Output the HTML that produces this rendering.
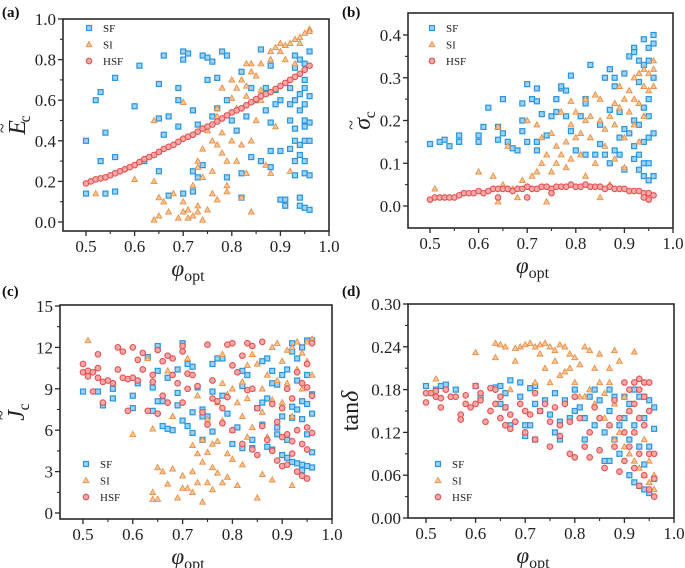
<!DOCTYPE html>
<html><head><meta charset="utf-8"><style>
html,body{margin:0;padding:0;background:#fff;}
svg{display:block;}
svg text{font-family:"Liberation Serif","DejaVu Serif",serif;}
</style></head><body>
<svg id="fig" width="685" height="568" viewBox="0 0 685 568" xmlns="http://www.w3.org/2000/svg"></svg>
<script>
const NS="http://www.w3.org/2000/svg";
const xTicks=[0.5,0.6,0.7,0.8,0.9,1.0];
const xTickLabels=["0.5","0.6","0.7","0.8","0.9","1.0"];
const aYTicks=[0,0.2,0.4,0.6,0.8,1.0];
const aYTickLabels=["0.0","0.2","0.4","0.6","0.8","1.0"];
const bYTicks=[0,0.1,0.2,0.3,0.4];
const bYTickLabels=["0.0","0.1","0.2","0.3","0.4"];
const cYTicks=[0,3,6,9,12,15];
const cYTickLabels=["0","3","6","9","12","15"];
const dYTicks=[0,0.06,0.12,0.18,0.24,0.30];
const dYTickLabels=["0.00","0.06","0.12","0.18","0.24","0.30"];
const seriesNames=["SF","SI","HSF"];

const aSF=[[0.50,0.40],[0.50,0.14],[0.52,0.60],[0.53,0.64],[0.53,0.30],[0.54,0.44],[0.54,0.14],[0.56,0.71],[0.56,0.32],[0.56,0.15],[0.60,0.57],[0.61,0.77],[0.62,0.30],[0.65,0.68],[0.65,0.51],[0.65,0.25],[0.66,0.82],[0.66,0.43],[0.67,0.52],[0.67,0.13],[0.69,0.66],[0.69,0.60],[0.69,0.47],[0.70,0.84],[0.70,0.80],[0.70,0.14],[0.71,0.83],[0.72,0.55],[0.72,0.25],[0.72,0.15],[0.73,0.48],[0.73,0.22],[0.74,0.82],[0.74,0.28],[0.75,0.70],[0.75,0.81],[0.76,0.79],[0.76,0.52],[0.77,0.56],[0.77,0.71],[0.78,0.84],[0.79,0.82],[0.79,0.60],[0.79,0.22],[0.80,0.50],[0.81,0.45],[0.82,0.74],[0.82,0.24],[0.82,0.12],[0.83,0.52],[0.84,0.66],[0.84,0.32],[0.85,0.60],[0.86,0.85],[0.86,0.30],[0.87,0.55],[0.87,0.66],[0.88,0.77],[0.88,0.49],[0.88,0.35],[0.88,0.27],[0.89,0.58],[0.89,0.65],[0.90,0.60],[0.90,0.35],[0.90,0.11],[0.91,0.11],[0.91,0.08],[0.92,0.66],[0.92,0.58],[0.92,0.50],[0.92,0.36],[0.93,0.82],[0.93,0.76],[0.93,0.60],[0.93,0.46],[0.93,0.40],[0.93,0.30],[0.93,0.23],[0.94,0.80],[0.94,0.63],[0.94,0.55],[0.94,0.38],[0.94,0.33],[0.94,0.12],[0.94,0.08],[0.95,0.78],[0.95,0.70],[0.95,0.66],[0.95,0.58],[0.95,0.50],[0.95,0.47],[0.95,0.40],[0.95,0.30],[0.95,0.24],[0.95,0.07],[0.96,0.84],[0.96,0.62],[0.96,0.49],[0.96,0.40],[0.96,0.23],[0.96,0.06]];
const aSI=[[0.52,0.14],[0.60,0.21],[0.64,0.50],[0.64,0.20],[0.64,0.01],[0.65,0.12],[0.65,0.03],[0.66,0.10],[0.67,0.05],[0.68,0.14],[0.69,0.02],[0.70,0.59],[0.70,0.10],[0.70,0.05],[0.71,0.06],[0.71,0.02],[0.72,0.18],[0.72,0.03],[0.73,0.27],[0.73,0.30],[0.73,0.08],[0.73,0.05],[0.74,0.01],[0.74,0.22],[0.74,0.36],[0.75,0.45],[0.75,0.06],[0.76,0.25],[0.76,0.40],[0.76,0.14],[0.77,0.52],[0.77,0.38],[0.77,0.11],[0.78,0.66],[0.78,0.34],[0.78,0.44],[0.79,0.30],[0.79,0.18],[0.79,0.15],[0.80,0.70],[0.80,0.40],[0.80,0.61],[0.81,0.66],[0.81,0.30],[0.82,0.12],[0.82,0.70],[0.82,0.38],[0.83,0.62],[0.83,0.78],[0.83,0.24],[0.84,0.78],[0.84,0.74],[0.84,0.40],[0.84,0.05],[0.85,0.72],[0.85,0.50],[0.86,0.78],[0.86,0.60],[0.87,0.28],[0.88,0.84],[0.88,0.80],[0.88,0.24],[0.89,0.86],[0.89,0.47],[0.90,0.84],[0.90,0.88],[0.91,0.87],[0.91,0.80],[0.92,0.88],[0.92,0.25],[0.93,0.90],[0.93,0.78],[0.94,0.91],[0.94,0.88],[0.95,0.93],[0.96,0.95],[0.96,0.94],[0.77,0.56],[0.81,0.56],[0.83,0.67],[0.86,0.65]];
const aHSF=[[0.50,0.19],[0.51,0.20],[0.52,0.21],[0.53,0.215],[0.54,0.22],[0.55,0.23],[0.56,0.24],[0.57,0.25],[0.58,0.26],[0.59,0.27],[0.60,0.28],[0.61,0.295],[0.62,0.31],[0.63,0.32],[0.64,0.33],[0.65,0.345],[0.66,0.36],[0.67,0.37],[0.68,0.38],[0.69,0.395],[0.70,0.41],[0.71,0.42],[0.72,0.43],[0.73,0.445],[0.74,0.46],[0.75,0.47],[0.76,0.48],[0.77,0.495],[0.78,0.51],[0.79,0.525],[0.80,0.54],[0.81,0.55],[0.82,0.56],[0.83,0.575],[0.84,0.59],[0.85,0.605],[0.86,0.62],[0.87,0.63],[0.88,0.64],[0.89,0.655],[0.90,0.67],[0.91,0.685],[0.92,0.70],[0.93,0.715],[0.94,0.73],[0.95,0.75],[0.96,0.77]];

const bSF=[[0.50,0.145],[0.52,0.15],[0.53,0.155],[0.54,0.14],[0.56,0.165],[0.56,0.15],[0.60,0.165],[0.60,0.15],[0.61,0.185],[0.62,0.23],[0.64,0.185],[0.64,0.155],[0.65,0.25],[0.65,0.17],[0.66,0.15],[0.67,0.135],[0.68,0.13],[0.69,0.20],[0.69,0.24],[0.69,0.175],[0.70,0.285],[0.70,0.15],[0.71,0.25],[0.72,0.275],[0.72,0.245],[0.72,0.15],[0.72,0.13],[0.73,0.215],[0.74,0.165],[0.75,0.21],[0.76,0.25],[0.76,0.22],[0.77,0.275],[0.77,0.28],[0.78,0.27],[0.78,0.21],[0.79,0.305],[0.79,0.175],[0.80,0.13],[0.81,0.21],[0.82,0.25],[0.82,0.24],[0.82,0.12],[0.83,0.33],[0.84,0.12],[0.85,0.19],[0.85,0.145],[0.86,0.30],[0.86,0.12],[0.87,0.32],[0.87,0.225],[0.87,0.10],[0.88,0.30],[0.88,0.28],[0.88,0.13],[0.89,0.22],[0.89,0.16],[0.89,0.12],[0.90,0.31],[0.90,0.18],[0.90,0.085],[0.91,0.35],[0.91,0.17],[0.92,0.37],[0.92,0.36],[0.92,0.20],[0.92,0.14],[0.92,0.11],[0.93,0.34],[0.93,0.29],[0.93,0.19],[0.93,0.12],[0.93,0.085],[0.94,0.39],[0.94,0.33],[0.94,0.23],[0.94,0.15],[0.94,0.10],[0.94,0.07],[0.95,0.37],[0.95,0.34],[0.95,0.25],[0.95,0.21],[0.95,0.16],[0.95,0.10],[0.95,0.06],[0.96,0.40],[0.96,0.38],[0.96,0.30],[0.96,0.17],[0.96,0.07]];
const bSI=[[0.51,0.04],[0.60,0.08],[0.63,0.07],[0.64,0.185],[0.64,0.01],[0.65,0.05],[0.66,0.14],[0.67,0.04],[0.68,0.02],[0.69,0.06],[0.70,0.20],[0.71,0.07],[0.72,0.19],[0.72,0.08],[0.73,0.10],[0.73,0.16],[0.74,0.01],[0.74,0.12],[0.75,0.08],[0.75,0.17],[0.76,0.14],[0.76,0.10],[0.77,0.22],[0.77,0.12],[0.78,0.15],[0.78,0.09],[0.79,0.245],[0.79,0.19],[0.79,0.11],[0.80,0.16],[0.80,0.22],[0.81,0.17],[0.81,0.12],[0.82,0.20],[0.82,0.25],[0.82,0.07],[0.83,0.21],[0.83,0.16],[0.84,0.26],[0.84,0.10],[0.85,0.25],[0.85,0.20],[0.85,0.02],[0.86,0.18],[0.86,0.14],[0.87,0.21],[0.87,0.05],[0.88,0.24],[0.88,0.19],[0.88,0.11],[0.89,0.28],[0.89,0.23],[0.90,0.25],[0.90,0.16],[0.90,0.09],[0.91,0.27],[0.91,0.22],[0.92,0.30],[0.92,0.25],[0.92,0.19],[0.93,0.31],[0.93,0.24],[0.93,0.15],[0.94,0.32],[0.94,0.28],[0.94,0.21],[0.95,0.31],[0.95,0.27],[0.96,0.34],[0.96,0.32],[0.96,0.28]];
const bHSF=[[0.50,0.015],[0.51,0.02],[0.52,0.02],[0.53,0.02],[0.54,0.02],[0.55,0.02],[0.56,0.025],[0.57,0.03],[0.58,0.03],[0.59,0.03],[0.60,0.035],[0.61,0.03],[0.62,0.035],[0.63,0.04],[0.64,0.04],[0.65,0.04],[0.66,0.04],[0.67,0.035],[0.68,0.04],[0.69,0.04],[0.70,0.045],[0.71,0.04],[0.72,0.04],[0.73,0.045],[0.74,0.045],[0.75,0.04],[0.76,0.045],[0.77,0.045],[0.78,0.045],[0.79,0.05],[0.80,0.045],[0.81,0.045],[0.82,0.05],[0.83,0.045],[0.84,0.045],[0.85,0.045],[0.86,0.04],[0.87,0.045],[0.88,0.04],[0.89,0.04],[0.90,0.04],[0.91,0.035],[0.92,0.035],[0.93,0.035],[0.94,0.03],[0.95,0.03],[0.96,0.025],[0.70,0.02],[0.75,0.03],[0.95,0.015],[0.94,0.02],[0.64,0.02]];

const cSF=[[0.50,8.8],[0.53,8.8],[0.54,7.8],[0.56,9.0],[0.56,8.3],[0.60,8.5],[0.60,7.6],[0.61,9.4],[0.63,11.3],[0.64,7.4],[0.64,9.1],[0.65,12.1],[0.65,10.3],[0.65,8.1],[0.66,8.1],[0.66,6.3],[0.67,6.1],[0.67,9.8],[0.68,6.0],[0.69,10.4],[0.69,7.8],[0.69,8.7],[0.70,12.3],[0.70,6.7],[0.71,10.8],[0.71,6.3],[0.72,10.6],[0.72,7.3],[0.72,5.8],[0.73,9.1],[0.74,7.0],[0.74,7.5],[0.74,5.3],[0.75,7.0],[0.76,10.8],[0.76,8.8],[0.76,5.9],[0.77,11.2],[0.78,11.2],[0.78,8.5],[0.79,7.2],[0.80,5.0],[0.81,6.2],[0.82,10.3],[0.82,9.2],[0.82,4.7],[0.83,10.0],[0.84,5.3],[0.84,4.7],[0.85,7.6],[0.86,11.0],[0.86,8.0],[0.86,6.4],[0.87,11.2],[0.87,8.3],[0.87,4.8],[0.88,10.3],[0.88,9.4],[0.88,4.6],[0.89,9.3],[0.89,6.2],[0.89,5.7],[0.90,10.0],[0.90,7.0],[0.90,4.2],[0.91,10.4],[0.91,5.3],[0.91,4.0],[0.92,12.3],[0.92,11.7],[0.92,7.7],[0.92,6.9],[0.92,3.7],[0.93,9.6],[0.93,11.2],[0.93,7.5],[0.93,3.6],[0.94,12.0],[0.94,8.1],[0.94,6.8],[0.94,3.5],[0.94,3.1],[0.95,12.5],[0.95,10.0],[0.95,7.9],[0.95,5.7],[0.95,3.4],[0.96,12.5],[0.96,8.6],[0.96,4.4],[0.96,3.3],[0.96,7.2]];
const cSI=[[0.51,12.5],[0.60,5.7],[0.63,11.2],[0.64,6.1],[0.64,1.0],[0.64,1.5],[0.65,3.3],[0.65,1.0],[0.66,3.0],[0.67,10.3],[0.67,2.1],[0.68,3.2],[0.68,7.0],[0.69,1.1],[0.70,2.7],[0.70,1.8],[0.71,1.8],[0.71,11.2],[0.72,3.0],[0.72,1.5],[0.72,4.9],[0.73,4.3],[0.73,2.2],[0.73,8.5],[0.74,5.3],[0.74,0.8],[0.74,3.7],[0.75,6.8],[0.75,4.4],[0.75,2.2],[0.76,5.0],[0.76,3.3],[0.76,1.7],[0.77,8.0],[0.77,5.2],[0.77,2.9],[0.78,11.5],[0.78,9.4],[0.78,6.7],[0.78,2.2],[0.79,8.6],[0.79,4.3],[0.79,2.6],[0.80,9.0],[0.80,6.0],[0.80,3.9],[0.81,8.0],[0.81,2.0],[0.82,9.5],[0.82,7.0],[0.82,3.5],[0.83,10.7],[0.83,8.3],[0.83,5.5],[0.84,11.5],[0.84,9.0],[0.84,6.2],[0.85,1.1],[0.85,10.8],[0.86,9.0],[0.86,7.3],[0.86,2.8],[0.87,10.0],[0.87,5.5],[0.88,12.0],[0.88,8.2],[0.88,2.4],[0.89,12.3],[0.89,9.6],[0.90,11.0],[0.90,8.0],[0.91,11.8],[0.91,9.4],[0.92,12.0],[0.92,2.0],[0.92,7.0],[0.93,12.4],[0.93,10.4],[0.94,11.6],[0.94,9.0],[0.95,12.4],[0.95,11.0],[0.96,12.6],[0.96,10.0]];
const cHSF=[[0.50,10.8],[0.50,10.2],[0.51,10.3],[0.51,9.9],[0.52,10.2],[0.52,8.8],[0.53,11.5],[0.53,10.5],[0.53,9.8],[0.54,9.5],[0.54,8.0],[0.55,9.6],[0.56,9.4],[0.57,12.0],[0.57,10.4],[0.58,11.7],[0.58,9.8],[0.59,9.7],[0.59,7.4],[0.60,12.0],[0.60,9.8],[0.61,11.1],[0.61,9.6],[0.62,11.6],[0.62,10.4],[0.63,7.4],[0.64,10.0],[0.64,9.5],[0.65,11.8],[0.65,7.2],[0.66,11.0],[0.66,8.5],[0.67,11.4],[0.67,8.0],[0.68,10.0],[0.68,11.2],[0.69,9.4],[0.70,12.1],[0.70,11.7],[0.70,8.0],[0.71,10.1],[0.71,9.0],[0.72,10.0],[0.73,9.2],[0.74,7.3],[0.75,6.4],[0.75,12.2],[0.76,9.6],[0.76,8.3],[0.77,8.1],[0.78,7.6],[0.78,6.5],[0.79,12.2],[0.79,8.4],[0.80,12.3],[0.80,10.7],[0.80,6.0],[0.81,10.2],[0.82,11.4],[0.82,5.0],[0.83,12.3],[0.83,8.9],[0.84,12.1],[0.84,9.0],[0.84,4.6],[0.85,7.6],[0.85,4.2],[0.86,12.4],[0.86,6.3],[0.87,5.3],[0.88,7.9],[0.88,4.5],[0.89,6.6],[0.89,3.8],[0.90,7.6],[0.90,5.5],[0.90,3.4],[0.91,9.0],[0.91,5.7],[0.91,3.5],[0.92,8.3],[0.92,5.2],[0.92,4.3],[0.93,10.2],[0.93,6.0],[0.93,3.0],[0.94,9.4],[0.94,5.0],[0.94,2.7],[0.95,10.8],[0.95,9.1],[0.95,6.2],[0.95,4.6],[0.95,2.5],[0.96,12.3],[0.96,8.5],[0.96,5.8]];

const dSF=[[0.50,0.185],[0.52,0.18],[0.53,0.185],[0.54,0.187],[0.56,0.18],[0.60,0.185],[0.61,0.17],[0.64,0.183],[0.65,0.185],[0.65,0.16],[0.66,0.175],[0.66,0.155],[0.67,0.193],[0.67,0.13],[0.69,0.19],[0.69,0.17],[0.70,0.13],[0.70,0.115],[0.71,0.182],[0.71,0.13],[0.72,0.185],[0.72,0.16],[0.72,0.11],[0.73,0.15],[0.74,0.165],[0.75,0.145],[0.76,0.175],[0.76,0.12],[0.77,0.135],[0.77,0.11],[0.78,0.165],[0.79,0.14],[0.80,0.18],[0.80,0.15],[0.81,0.155],[0.82,0.14],[0.82,0.11],[0.83,0.17],[0.84,0.18],[0.84,0.13],[0.85,0.165],[0.86,0.12],[0.86,0.08],[0.87,0.18],[0.87,0.15],[0.87,0.08],[0.88,0.17],[0.88,0.11],[0.89,0.13],[0.89,0.09],[0.90,0.17],[0.90,0.14],[0.91,0.16],[0.91,0.11],[0.91,0.06],[0.92,0.18],[0.92,0.13],[0.92,0.05],[0.93,0.17],[0.93,0.10],[0.93,0.045],[0.94,0.17],[0.94,0.14],[0.94,0.075],[0.94,0.04],[0.95,0.165],[0.95,0.10],[0.95,0.035],[0.96,0.155],[0.96,0.125],[0.96,0.055]];
const dSI=[[0.52,0.195],[0.60,0.232],[0.64,0.245],[0.64,0.225],[0.65,0.243],[0.66,0.24],[0.67,0.18],[0.68,0.22],[0.68,0.238],[0.69,0.24],[0.70,0.243],[0.71,0.245],[0.72,0.24],[0.72,0.19],[0.73,0.243],[0.73,0.23],[0.74,0.245],[0.74,0.21],[0.75,0.24],[0.75,0.19],[0.76,0.235],[0.76,0.22],[0.77,0.243],[0.77,0.2],[0.78,0.24],[0.78,0.205],[0.79,0.23],[0.79,0.21],[0.80,0.225],[0.80,0.19],[0.81,0.17],[0.81,0.215],[0.82,0.24],[0.82,0.17],[0.83,0.235],[0.83,0.18],[0.84,0.21],[0.84,0.16],[0.85,0.23],[0.85,0.19],[0.86,0.175],[0.86,0.14],[0.87,0.21],[0.87,0.19],[0.87,0.13],[0.88,0.235],[0.88,0.16],[0.88,0.11],[0.89,0.22],[0.89,0.12],[0.90,0.17],[0.90,0.10],[0.91,0.15],[0.91,0.09],[0.92,0.233],[0.92,0.12],[0.92,0.08],[0.93,0.14],[0.93,0.07],[0.94,0.11],[0.94,0.06],[0.95,0.08],[0.95,0.05],[0.96,0.06],[0.96,0.04]];
const dHSF=[[0.50,0.175],[0.50,0.162],[0.51,0.175],[0.52,0.17],[0.52,0.178],[0.53,0.168],[0.53,0.155],[0.54,0.18],[0.55,0.17],[0.56,0.17],[0.57,0.145],[0.57,0.138],[0.58,0.16],[0.58,0.172],[0.59,0.155],[0.60,0.185],[0.60,0.16],[0.61,0.175],[0.61,0.165],[0.62,0.135],[0.63,0.182],[0.63,0.15],[0.64,0.18],[0.64,0.16],[0.65,0.14],[0.65,0.17],[0.66,0.13],[0.66,0.155],[0.67,0.125],[0.67,0.145],[0.68,0.135],[0.69,0.16],[0.70,0.15],[0.70,0.12],[0.71,0.145],[0.72,0.175],[0.72,0.11],[0.73,0.15],[0.74,0.16],[0.75,0.10],[0.75,0.135],[0.76,0.155],[0.77,0.13],[0.77,0.115],[0.78,0.16],[0.79,0.09],[0.79,0.135],[0.80,0.17],[0.80,0.085],[0.81,0.14],[0.82,0.10],[0.83,0.12],[0.83,0.085],[0.84,0.155],[0.85,0.14],[0.85,0.095],[0.86,0.07],[0.87,0.13],[0.88,0.165],[0.88,0.10],[0.89,0.065],[0.89,0.14],[0.90,0.19],[0.90,0.12],[0.90,0.08],[0.91,0.18],[0.91,0.15],[0.91,0.10],[0.92,0.19],[0.92,0.16],[0.92,0.12],[0.92,0.07],[0.93,0.195],[0.93,0.18],[0.93,0.14],[0.93,0.09],[0.93,0.045],[0.94,0.19],[0.94,0.17],[0.94,0.13],[0.94,0.06],[0.95,0.19],[0.95,0.15],[0.95,0.09],[0.95,0.04],[0.96,0.09],[0.96,0.055],[0.96,0.03]];

const svg=document.getElementById('fig');
const FF='"Liberation Serif", serif';
function el(tag,attrs,parent){const e=document.createElementNS(NS,tag);for(const k in attrs)e.setAttribute(k,attrs[k]);if(tag==='text')e.setAttribute('font-family',FF);(parent||svg).appendChild(e);return e;}

function marker(g,kind,px,py){
  let m;
  if(kind==="SF"){
    m=el('rect',{x:px-2.5,y:py-2.5,width:5,height:5,fill:'#9dd2f2',stroke:'#2a94de','stroke-width':1.2},g);
  }else if(kind==="SI"){
    m=el('path',{d:`M${px},${py-3}L${px+2.9},${py+2.2}L${px-2.9},${py+2.2}Z`,fill:'#f7c796',stroke:'#ea9048','stroke-width':0.9},g);
  }else{
    m=el('circle',{cx:px,cy:py,r:2.8,fill:'#f5a8a8',stroke:'#e25454','stroke-width':1.1},g);
  }
  return m;
}

function panel(cfg){
  const g=el('g',{});
  
  
  const X=v=>cfg.x0px+(v-0.5)/(0.5)*(cfg.x1px-cfg.x0px);
  const Y=v=>cfg.y0px-(v-cfg.yTicks[0])/(cfg.yTicks[cfg.yTicks.length-1]-cfg.yTicks[0])*(cfg.y0px-cfg.y1px);
  const pg=el('g',{},g);
  
  
  cfg.series.forEach((s,si)=>{
    s.forEach(p=>{
      const m=marker(pg,seriesNames[si],X(p[0]),Y(p[1]));
      
      
    });
  });
  const fr=el('rect',{x:cfg.L,y:cfg.T,width:cfg.R-cfg.L,height:cfg.B-cfg.T,fill:'none',stroke:'#2a2a2a','stroke-width':1.6},g);
  
  
  xTicks.forEach((t,i)=>{
    const px=X(t);
    el('line',{x1:px,x2:px,y1:cfg.B,y2:cfg.B+5,stroke:'#2a2a2a','stroke-width':1.3},g);
    if(i<xTicks.length-1){const mx=X(t+0.05);el('line',{x1:mx,x2:mx,y1:cfg.B,y2:cfg.B+3,stroke:'#2a2a2a','stroke-width':1.1},g);}
    const tl=el('text',{x:px,y:cfg.B+21,'text-anchor':'middle','font-size':17,fill:'#222'},g);
    tl.textContent=xTickLabels[i];
    
    
  });
  {const mx=X(0.45); if(mx>cfg.L) el('line',{x1:mx,x2:mx,y1:cfg.B,y2:cfg.B+3,stroke:'#2a2a2a','stroke-width':1.1},g);}
  const yt=cfg.yTicks;
  yt.forEach((t,i)=>{
    const py=Y(t);
    el('line',{x1:cfg.L-5,x2:cfg.L,y1:py,y2:py,stroke:'#2a2a2a','stroke-width':1.3},g);
    if(i<yt.length-1){const my=Y((t+yt[i+1])/2); if(my>cfg.T) el('line',{x1:cfg.L-3,x2:cfg.L,y1:my,y2:my,stroke:'#2a2a2a','stroke-width':1.1},g);}
    const tl=el('text',{x:cfg.L-7,y:py+6,'text-anchor':'end','font-size':17,fill:'#222'},g);
    tl.textContent=cfg.yLabels[i];
    
    
  });
  const xt=el('text',{x:(cfg.L+cfg.R)/2-8,y:cfg.B+45,'text-anchor':'middle','font-size':23,fill:'#222'},g);
  xt.innerHTML='<tspan font-style="italic">φ</tspan><tspan font-size="16" dy="5">opt</tspan>';
  
  
  const yT=el('text',{x:0,y:0,'text-anchor':'middle','font-size':24,fill:'#222',transform:`translate(${cfg.yTitleX},${(cfg.T+cfg.B)/2}) rotate(-90)`},g);
  yT.innerHTML=cfg.yTitle;
  
  
  const pl=el('text',{x:cfg.labX,y:cfg.labY,'font-size':15,'font-weight':'bold',fill:'#111'},g);
  pl.textContent='('+cfg.id+')';
  
  
  const lg=el('g',{},g);
  
  
  seriesNames.forEach((n,i)=>{
    const ly=cfg.legY+i*16.5;
    const e=el('g',{},lg);
    
    
    marker(e,n,cfg.legX,ly);
    const t=el('text',{x:cfg.legX+14,y:ly+4,'font-size':11,fill:'#222'},e);
    t.textContent=n;
  });
}

const tl='<tspan font-style="italic">';
panel({id:'a',L:63,T:19,R:329,B:231,x0px:86,x1px:329,y0px:222,y1px:19,yTicks:aYTicks,yLabels:aYTickLabels,series:[aSF,aSI,aHSF],
  yTitle:tl+'E</tspan><tspan dx="-13" dy="-17" font-size="18">~</tspan><tspan font-size="16" dx="1" dy="22">c</tspan>',yTitleX:25,labX:2,labY:17,legX:89,legY:28});
panel({id:'b',L:408,T:13,R:673,B:228,x0px:430,x1px:673,y0px:206,y1px:35,yTicks:bYTicks,yLabels:bYTickLabels,series:[bSF,bSI,bHSF],
  yTitle:tl+'σ</tspan><tspan dx="-12" dy="-13" font-size="18">~</tspan><tspan font-size="16" dx="2" dy="18">c</tspan>',yTitleX:370,labX:342,labY:17,legX:432,legY:28});
panel({id:'c',L:60,T:305,R:332,B:519,x0px:83,x1px:332,y0px:513,y1px:306,yTicks:cYTicks,yLabels:cYTickLabels,series:[cSF,cSI,cHSF],
  yTitle:tl+'J</tspan><tspan dx="-10" dy="-17" font-size="18">~</tspan><tspan font-size="16" dx="0" dy="22">c</tspan>',yTitleX:24,labX:2,labY:296,legX:86,legY:464});
panel({id:'d',L:408,T:304,R:674,B:518,x0px:426,x1px:674,y0px:518,y1px:304,yTicks:dYTicks,yLabels:dYTickLabels,series:[dSF,dSI,dHSF],
  yTitle:'tan<tspan font-style="italic">δ</tspan>',yTitleX:358,labX:342,labY:296,legX:438,legY:464});
</script>
</body></html>
